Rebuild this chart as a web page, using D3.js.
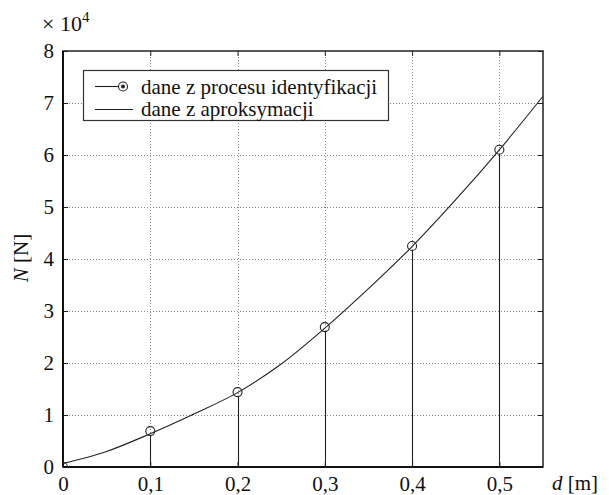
<!DOCTYPE html>
<html>
<head>
<meta charset="utf-8">
<script src="https://cdn.jsdelivr.net/npm/d3@7"></script>
<style>
  body { margin: 0; background: #fff; }
  svg text { font-family: "Liberation Serif", "Times New Roman", "DejaVu Serif", serif !important; fill: #111; }
</style>
</head>
<body>
<svg id="chart" width="609" height="495"></svg>
<script>
// identification points (d [m], N [x10^4 N])
let pointD = [0, 0.1, 0.2, 0.3, 0.4, 0.5];
let pointN = [0, 0.69, 1.44, 2.69, 4.25, 6.1];
// approximation curve
let curveD = [0, 0.05, 0.1, 0.15, 0.2, 0.25, 0.3, 0.35, 0.4, 0.45, 0.5, 0.55];
let curveN = [0.07, 0.3, 0.64, 1.02, 1.43, 1.98, 2.67, 3.43, 4.24, 5.14, 6.1, 7.13];
let xTicks = [0, 0.1, 0.2, 0.3, 0.4, 0.5];
let yTicks = [0, 1, 2, 3, 4, 5, 6, 7, 8];
let legendLabels = ["dane z procesu identyfikacji", "dane z aproksymacji"];

let svg = d3.select("#chart");
let pLeft = 63, pRight = 543, pTop = 51, pBottom = 467;
let serif = "'Liberation Serif', 'Times New Roman', serif";

let x = d3.scaleLinear().domain([0, 0.55]).range([pLeft, pRight]);
let y = d3.scaleLinear().domain([0, 8]).range([pBottom, pTop]);
let fmt = d => String(d).replace(".", ",");

svg.append("clipPath").attr("id", "plotClip")
  .append("rect").attr("x", pLeft).attr("y", pTop).attr("width", pRight - pLeft).attr("height", pBottom - pTop);

// grid
let grid = svg.append("g").attr("stroke", "#8a8a8a").attr("stroke-width", 1).attr("stroke-dasharray", "1,2");
grid.selectAll(".gx").data(xTicks.filter(d => d > 0)).enter().append("line")
  .attr("x1", d => Math.round(x(d)) + 0.5).attr("x2", d => Math.round(x(d)) + 0.5)
  .attr("y1", pTop).attr("y2", pBottom);
grid.selectAll(".gy").data(yTicks.filter(d => d > 0 && d < 8)).enter().append("line")
  .attr("y1", d => Math.round(y(d)) + 0.5).attr("y2", d => Math.round(y(d)) + 0.5)
  .attr("x1", pLeft).attr("x2", pRight);

// axes with inner ticks
let xAxis = d3.axisBottom(x).tickValues(xTicks).tickSize(-5).tickPadding(9).tickFormat(fmt);
let xTop = d3.axisTop(x).tickValues(xTicks).tickSize(-5).tickFormat("");
let yAxis = d3.axisLeft(y).tickValues(yTicks).tickSize(-5).tickPadding(9).tickFormat(d3.format("d"));
let yRight = d3.axisRight(y).tickValues(yTicks).tickSize(-5).tickFormat("");

function styleAxis(g) {
  g.attr("font-family", serif);
  g.select(".domain").remove();
  g.selectAll("line").attr("stroke", "#222");
  g.selectAll("text").attr("font-size", 21).attr("fill", "#111");
}
svg.append("g").attr("transform", `translate(0,${pBottom})`).call(xAxis).call(styleAxis);
svg.append("g").attr("transform", `translate(0,${pTop})`).call(xTop).call(styleAxis);
svg.append("g").attr("transform", `translate(${pLeft},0)`).call(yAxis).call(styleAxis);
svg.append("g").attr("transform", `translate(${pRight},0)`).call(yRight).call(styleAxis);

// frame
svg.append("rect").attr("x", pLeft).attr("y", pTop).attr("width", pRight - pLeft).attr("height", pBottom - pTop)
  .attr("fill", "none").attr("stroke", "#222").attr("stroke-width", 1.5);
svg.append("line").attr("x1", pLeft).attr("x2", pLeft).attr("y1", pTop).attr("y2", pBottom)
  .attr("stroke", "#111").attr("stroke-width", 2);
svg.append("line").attr("x1", pLeft).attr("x2", pRight).attr("y1", pBottom).attr("y2", pBottom)
  .attr("stroke", "#111").attr("stroke-width", 2);

let plot = svg.append("g").attr("clip-path", "url(#plotClip)");

// approximation curve
let line = d3.line().x(d => x(d[0])).y(d => y(d[1])).curve(d3.curveCatmullRom.alpha(0.5));
plot.append("path").datum(curveD.map((d, i) => [d, curveN[i]]))
  .attr("d", line).attr("fill", "none").attr("stroke", "#222").attr("stroke-width", 1.1);

// stems and circles
let pts = pointD.map((d, i) => [d, pointN[i]]);
plot.selectAll(".stem").data(pts).enter().append("line")
  .attr("x1", d => Math.round(x(d[0])) + 0.5).attr("x2", d => Math.round(x(d[0])) + 0.5)
  .attr("y1", d => y(d[1]) + 4.5).attr("y2", pBottom)
  .attr("stroke", "#222").attr("stroke-width", 1.1);
plot.selectAll(".pt").data(pts).enter().append("circle")
  .attr("cx", d => x(d[0])).attr("cy", d => y(d[1])).attr("r", 4.5)
  .attr("fill", "none").attr("stroke", "#222").attr("stroke-width", 1.1);

// legend
let lg = svg.append("g").attr("font-family", serif);
lg.append("rect").attr("x", 83.5).attr("y", 70.5).attr("width", 305).attr("height", 50)
  .attr("fill", "#fff").attr("stroke", "#333").attr("stroke-width", 1.2);
lg.append("line").attr("x1", 95).attr("x2", 123).attr("y1", 86.5).attr("y2", 86.5).attr("stroke", "#222").attr("stroke-width", 1.1);
lg.append("circle").attr("cx", 123).attr("cy", 86.5).attr("r", 4.5).attr("fill", "#fff").attr("stroke", "#222").attr("stroke-width", 1.1);
lg.append("circle").attr("cx", 123).attr("cy", 86.5).attr("r", 2).attr("fill", "#222");
lg.append("line").attr("x1", 95).attr("x2", 133).attr("y1", 109.5).attr("y2", 109.5).attr("stroke", "#222").attr("stroke-width", 1.1);
lg.selectAll(".lt").data(legendLabels).enter().append("text")
  .attr("x", 141).attr("y", (d, i) => 94 + i * 22).attr("font-size", 21).text(d => d);

// exponent label
let ex = svg.append("text").attr("x", 42).attr("y", 31).attr("font-size", 22).attr("font-family", serif);
ex.append("tspan").text("× 10");
ex.append("tspan").attr("dy", -9).attr("font-size", 15).text("4");

// axis titles
let yl = svg.append("text").attr("transform", "translate(28,258) rotate(-90)")
  .attr("text-anchor", "middle").attr("font-size", 21).attr("font-family", serif);
yl.append("tspan").attr("font-style", "italic").text("N");
yl.append("tspan").text(" [N]");

let xl = svg.append("text").attr("x", 552).attr("y", 490).attr("font-size", 21).attr("font-family", serif);
xl.append("tspan").attr("font-style", "italic").text("d");
xl.append("tspan").text(" [m]");
</script>
</body>
</html>
